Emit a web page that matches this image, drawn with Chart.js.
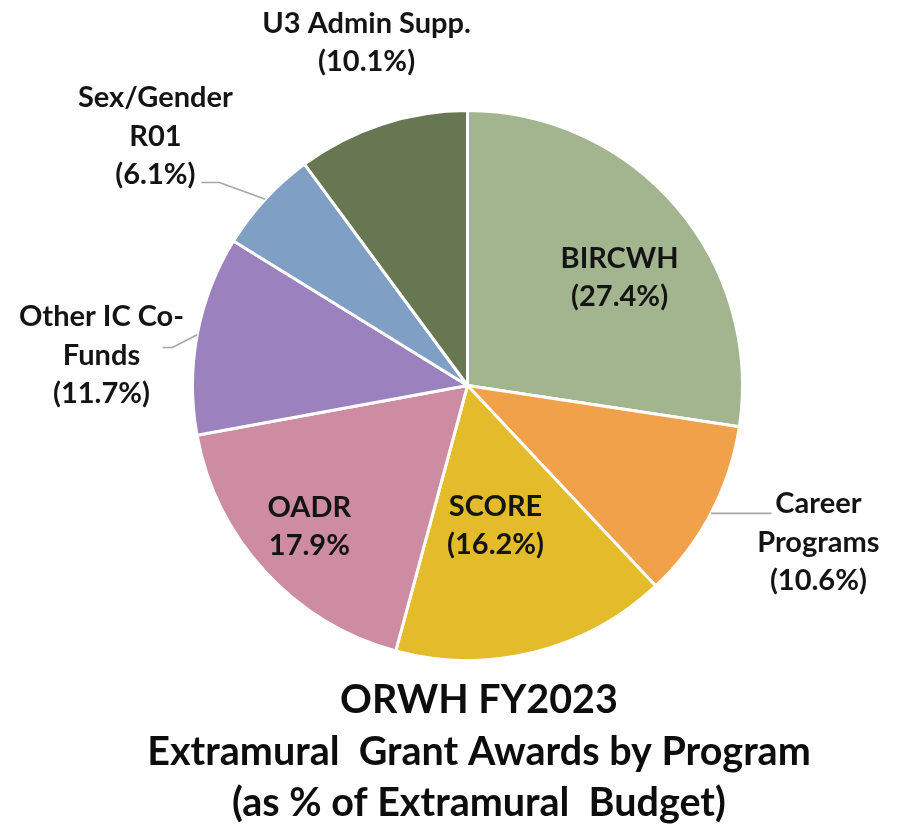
<!DOCTYPE html>
<html>
<head>
<meta charset="utf-8">
<script src="https://cdn.jsdelivr.net/npm/chart.js@4/dist/chart.umd.min.js"></script>
<style>
html,body{margin:0;padding:0;background:#ffffff;}
#wrap{width:908px;height:824px;position:relative;}
</style>
</head>
<body>
<div id="wrap"><canvas id="c" width="908" height="824"></canvas></div>
<script>
// ---- data ----
const categories = ['BIRCWH', 'Career Programs', 'SCORE', 'OADR', 'Other IC Co-Funds', 'Sex/Gender R01', 'U3 Admin Supp.'];
const values = [27.4, 10.6, 16.2, 17.9, 11.7, 6.1, 10.1];
const labelLines = [
  ['BIRCWH', '(27.4%)'],
  ['Career', 'Programs', '(10.6%)'],
  ['SCORE', '(16.2%)'],
  ['OADR', '17.9%'],
  ['Other IC Co-', 'Funds', '(11.7%)'],
  ['Sex/Gender', 'R01', '(6.1%)'],
  ['U3 Admin Supp.', '(10.1%)']
];
const titleLines = ['ORWH FY2023', 'Extramural  Grant Awards by Program', '(as % of Extramural  Budget)'];

// ---- styles / layout (kept separate from data) ----
const colors = ['#a3b58f', '#f0a14a', '#e3bb2b', '#cd8ca2', '#9b82be', '#7f9fc4', '#677752'];
// label block centres, as fractions of the radius from the pie centre
const labelPos = [
  [0.553, -0.393],
  [1.276, 0.571],
  [0.102, 0.509],
  [-0.575, 0.513],
  [-1.331, -0.109],
  [-1.135, -0.905],
  [-0.367, -1.247]
];
// leader lines: slice index and following points (fractions of radius)
const leaders = [
  { i: 5, pts: [[-0.902, -0.738], [-0.967, -0.738]] },
  { i: 4, pts: [[-1.073, -0.138], [-1.109, -0.138]] },
  { i: 1, pts: [[1.105, 0.465]] }
];
const LABEL_FONT = 'bold 29px Lato';
const LABEL_LH = 38.5;
const TITLE_FONT = 'bold 39.5px Lato';
const TITLE_X = 479;
const TITLE_Y = [700, 752, 803];

const labelPlugin = {
  id: 'sliceLabels',
  afterDatasetsDraw(chart) {
    const ctx = chart.ctx;
    const meta = chart.getDatasetMeta(0);
    const a0 = meta.data[0];
    const cx = a0.x, cy = a0.y, R = a0.outerRadius;
    ctx.save();
    ctx.strokeStyle = '#a6a6a6';
    ctx.lineWidth = 1.6;
    leaders.forEach(l => {
      const a = meta.data[l.i];
      const mid = (a.startAngle + a.endAngle) / 2;
      ctx.beginPath();
      ctx.moveTo(cx + Math.cos(mid) * R, cy + Math.sin(mid) * R);
      l.pts.forEach(p => ctx.lineTo(cx + p[0] * R, cy + p[1] * R));
      ctx.stroke();
    });
    ctx.font = LABEL_FONT;
    ctx.textAlign = 'center';
    ctx.textBaseline = 'middle';
    ctx.fillStyle = '#141414';
    labelLines.forEach((lines, i) => {
      const bx = cx + labelPos[i][0] * R;
      const by = cy + labelPos[i][1] * R;
      const n = lines.length;
      lines.forEach((t, k) => ctx.fillText(t, bx, by + (k - (n - 1) / 2) * LABEL_LH));
    });
    ctx.font = TITLE_FONT;
    ctx.fillStyle = '#0d0d0d';
    titleLines.forEach((t, k) => ctx.fillText(t, TITLE_X, TITLE_Y[k]));
    ctx.restore();
  }
};

new Chart(document.getElementById('c'), {
  type: 'pie',
  data: {
    labels: categories,
    datasets: [{
      data: values,
      backgroundColor: colors,
      borderColor: '#ffffff',
      borderWidth: 3
    }]
  },
  options: {
    responsive: false,
    animation: false,
    layout: { padding: { left: 191, right: 164, top: 109, bottom: 162 } },
    plugins: {
      legend: { display: false },
      tooltip: { enabled: false },
      title: { display: false }
    }
  },
  plugins: [labelPlugin]
});
</script>
</body>
</html>
